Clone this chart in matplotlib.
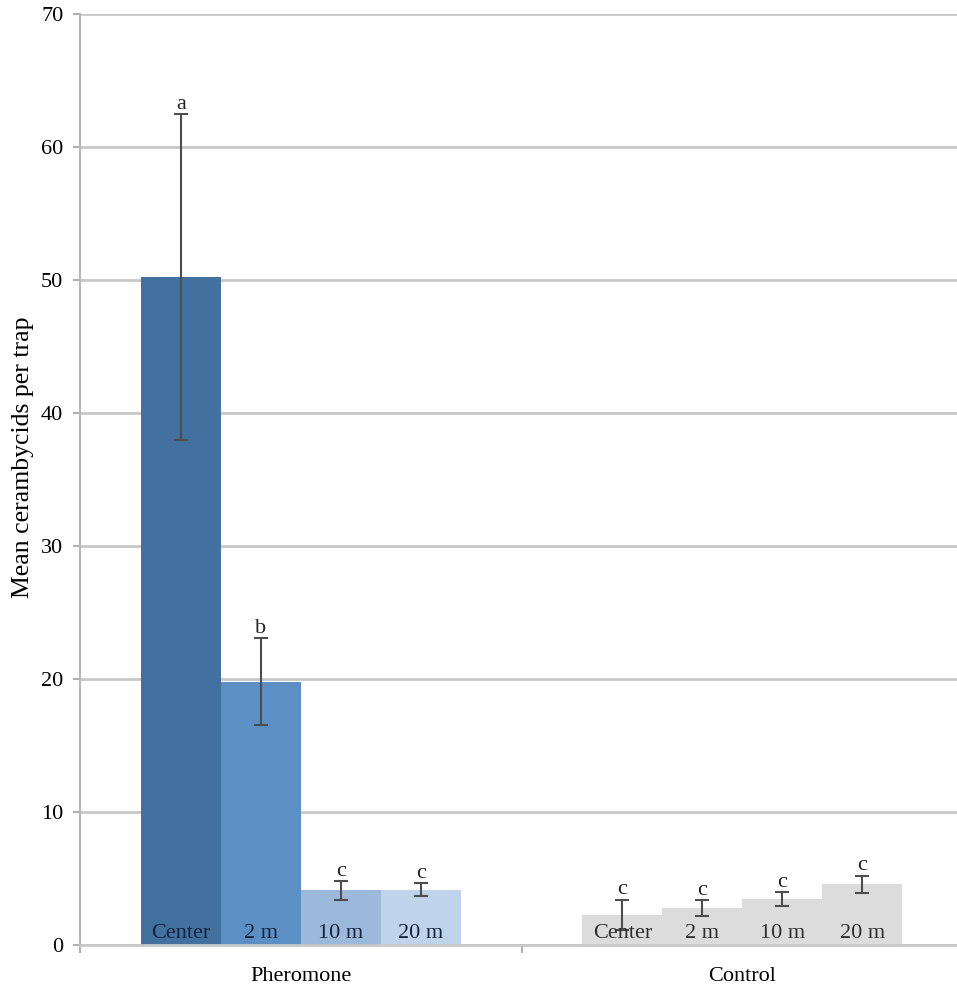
import matplotlib.pyplot as plt
import numpy as np

# data
groups = ["Pheromone", "Control"]
distances = ["Center", "2 m", "10 m", "20 m"]
pher_mean = [50.2, 19.8, 4.1, 4.15]
pher_err = [12.25, 3.25, 0.7, 0.5]
ctrl_mean = [2.26, 2.76, 3.45, 4.56]
ctrl_err = [1.15, 0.6, 0.5, 0.65]
pher_letters = ["a", "b", "c", "c"]
ctrl_letters = ["c", "c", "c", "c"]

pher_colors = ["#43719f", "#5c8fc4", "#9cb8da", "#bfd3ea"]
ctrl_color = "#dcdcdc"

plt.rcParams["font.family"] = ["Liberation Serif", "DejaVu Serif"]

fig = plt.figure(figsize=(9.57, 9.89), dpi=100)
ax = fig.add_axes([80 / 957, 44 / 989, 883 / 957, 931 / 989])

width = 0.181
offsets = (np.arange(4) - 1.5) * width

for gi, (means, errs, letters) in enumerate([(pher_mean, pher_err, pher_letters),
                                             (ctrl_mean, ctrl_err, ctrl_letters)]):
    xs = gi + offsets
    cols = pher_colors if gi == 0 else [ctrl_color] * 4
    ax.bar(xs, means, width=width, color=cols, zorder=2)
    ax.errorbar(xs, means, yerr=errs, fmt="none", ecolor="#4d4d4d",
                elinewidth=1.5, capsize=5, capthick=1.5, zorder=3)
    for x, m, e, lt in zip(xs, means, errs, letters):
        ax.annotate(lt, (x, m + e), xytext=(0, 4), textcoords="offset points",
                    ha="center", va="baseline", fontsize=16, color="#222222")
    tcol = "#14223d" if gi == 0 else "#2e2e2e"
    for x, d in zip(xs, distances):
        ax.text(x, 0.5, d, ha="center", va="baseline", fontsize=16, color=tcol, zorder=4)

ax.set_xlim(-0.5, 1.5)
ax.set_ylim(0, 70)
ax.set_yticks(np.arange(0, 71, 10))
ax.yaxis.grid(True, color="#c8c8c8", linewidth=2)
ax.set_axisbelow(True)

ax.set_xticks([0, 1])
ax.set_xticklabels(groups, fontsize=16)
ax.set_xticks([-0.5, 0.5, 1.5], minor=True)
ax.tick_params(axis="x", which="major", length=0, pad=16)
ax.tick_params(axis="x", which="minor", length=6, color="#b0b0b0", width=1.5)
ax.tick_params(axis="y", length=5, color="#b0b0b0", width=1.5, labelsize=16, pad=7)

for s in ["top", "right"]:
    ax.spines[s].set_visible(False)
ax.spines["left"].set_color("#b8b8b8")
ax.spines["left"].set_linewidth(1.5)
ax.spines["bottom"].set_color("#c8c8c8")
ax.spines["bottom"].set_linewidth(2)

ax.set_ylabel("Mean cerambycids per trap", fontsize=18.5)
ax.yaxis.set_label_coords(-57 / 883, 0.524)
ax.yaxis.label.set_va("center")

plt.savefig("out.png", dpi=100)
